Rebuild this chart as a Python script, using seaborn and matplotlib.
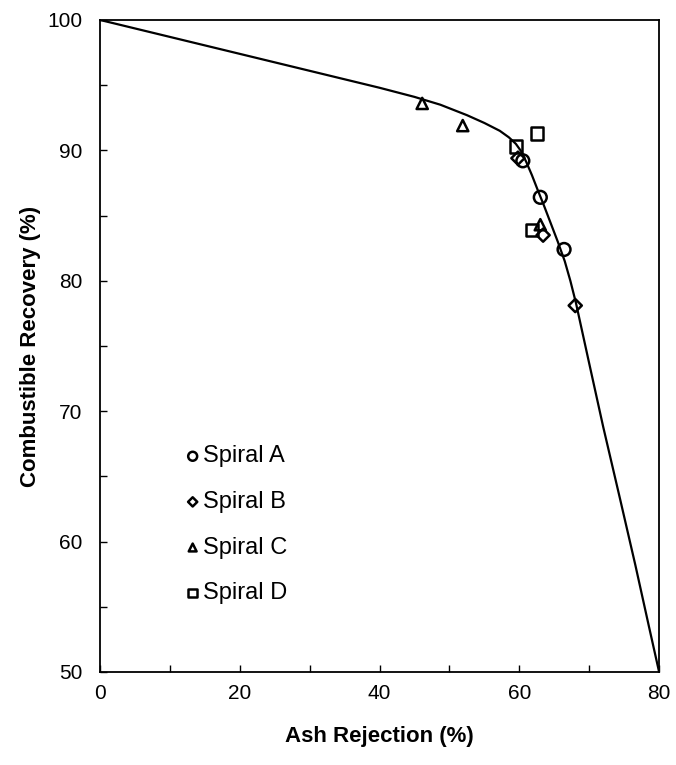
import numpy as np
import matplotlib
matplotlib.use("Agg")
import matplotlib.pyplot as plt
import seaborn as sns

# fitted curve
curve_x = [0, 10, 20, 30, 40, 45, 48.7, 52.5, 55, 57.2, 58.5, 59.5, 60.3, 61.0, 61.8, 62.6, 63.5,
           64.5, 65.5, 66.5, 67.3, 68.1, 69.9, 72.0, 74.4, 76.6, 78.5, 80]
curve_y = [100, 98.7, 97.4, 96.1, 94.8, 94.1, 93.5, 92.7, 92.1, 91.5, 91.0, 90.5, 89.9, 89.1, 88.1, 87.0, 85.8,
           84.4, 83.0, 81.5, 80.0, 78.3, 73.9, 68.8, 63.3, 58.2, 53.6, 50]

# spiral data points
spiral_a_x = [60.5, 63.0, 66.4]
spiral_a_y = [89.2, 86.4, 82.4]
spiral_b_x = [59.8, 63.4, 68.0]
spiral_b_y = [89.4, 83.5, 78.1]
spiral_c_x = [46.1, 51.9, 63.0]
spiral_c_y = [93.6, 91.9, 84.3]
spiral_d_x = [59.5, 62.5, 61.8]
spiral_d_y = [90.3, 91.3, 83.9]

sns.set_style("white")
plt.rcParams['font.family'] = ['Liberation Sans', 'DejaVu Sans']
plt.rcParams['text.color'] = 'black'
plt.rcParams['xtick.color'] = 'black'
plt.rcParams['ytick.color'] = 'black'
plt.rcParams['axes.labelcolor'] = 'black'

fig = plt.figure(figsize=(6.76, 7.65), dpi=100)
ax = fig.add_axes([0.148, 0.1216, 0.827, 0.8523])

sns.lineplot(x=curve_x, y=curve_y, sort=False, color='black', linewidth=1.6, ax=ax)

series = [
    (spiral_a_x, spiral_a_y, 'o', 'Spiral A'),
    (spiral_b_x, spiral_b_y, 'D', 'Spiral B'),
    (spiral_c_x, spiral_c_y, '^', 'Spiral C'),
    (spiral_d_x, spiral_d_y, 's', 'Spiral D'),
]
sizes = {'o': 85, 'D': 45, '^': 65, 's': 80}
for xs, ys, m, lab in series:
    sns.scatterplot(x=xs, y=ys, marker=m, s=sizes[m], color='black', linewidth=1.8,
                    label=lab, ax=ax, zorder=3)
    ax.collections[-1].set_facecolor('none')
    ax.collections[-1].set_edgecolor('black')

ax.set_xlim(0, 80)
ax.set_ylim(50, 100)
ax.set_xticks(np.arange(0, 81, 20))
ax.set_xticks(np.arange(0, 81, 10), minor=True)
ax.set_yticks(np.arange(50, 101, 10))
ax.set_yticks(np.arange(50, 101, 5), minor=True)
ax.tick_params(which='both', direction='in', length=5, width=1, color='black',
               labelsize=15)
ax.tick_params(axis='x', which='both', top=False, bottom=True, pad=9)
ax.tick_params(axis='y', which='both', left=True, right=False, pad=12.5)

for sp in ax.spines.values():
    sp.set_color('black')
    sp.set_linewidth(1.3)

ax.set_xlabel('Ash Rejection (%)', fontsize=16, fontweight='bold', labelpad=16)
ax.set_ylabel('Combustible Recovery (%)', fontsize=16, fontweight='bold', labelpad=5)

leg = ax.legend(loc='upper left', bbox_to_anchor=(0.096, 0.38), frameon=False,
                fontsize=17, labelspacing=1.0, handletextpad=-0.3, markerscale=0.7,
                handlelength=1.5)

plt.savefig("out.png", dpi=100)
